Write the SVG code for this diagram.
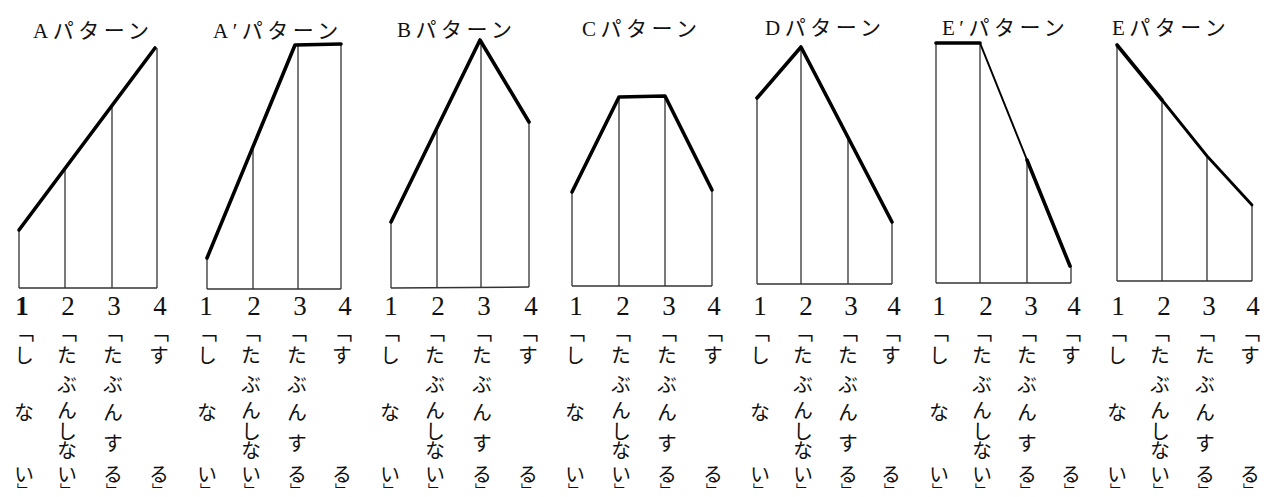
<svg xmlns="http://www.w3.org/2000/svg" width="1279" height="497" viewBox="0 0 1279 497">
<style>
.bg{fill:#fff}
.thin{stroke:#222;stroke-width:1.2;fill:none}
.base{stroke:#333;stroke-width:1.5;fill:none}
.thick{stroke:#000;stroke-width:3.6;fill:none;stroke-linejoin:round;stroke-linecap:round}
.mid{stroke:#000;stroke-width:2;fill:none}
.title{font-family:"Liberation Serif","Noto Sans CJK JP",serif;font-size:21px;letter-spacing:4.5px;fill:#111}
.num{font-family:"Liberation Serif",serif;font-size:27px;text-anchor:middle;fill:#111}
.lab{font-family:"Noto Sans CJK JP",sans-serif;font-size:20px;fill:#111;writing-mode:vertical-rl}
.cl{font-size:14px}
</style>
<rect class="bg" x="0" y="0" width="1279" height="497"/>

<g id="panelA">
<text class="title" x="33" y="38">Aパターン</text>
<path class="thin" d="M19,230V288M65,169V288M112,106V288M157,48V288"/>
<path class="base" d="M19,288H157"/>
<path class="thick" d="M19,230L155,48"/>
<text class="num" x="22" y="315" font-weight="bold">1</text><text class="num" x="68" y="315">2</text><text class="num" x="114" y="315">3</text><text class="num" x="160" y="315">4</text>
<text class="lab" x="24"><tspan y="322">「</tspan><tspan y="345">し</tspan><tspan y="402">な</tspan><tspan y="464">い</tspan><tspan class="cl" y="483">」</tspan></text>
<text class="lab" x="67"><tspan y="322">「</tspan><tspan y="345">た</tspan><tspan y="374">ぶ</tspan><tspan y="400">ん</tspan><tspan y="421">し</tspan><tspan y="440">な</tspan><tspan y="464">い</tspan><tspan class="cl" y="483">」</tspan></text>
<text class="lab" x="113"><tspan y="322">「</tspan><tspan y="345">た</tspan><tspan y="374">ぶ</tspan><tspan y="402">ん</tspan><tspan y="433">す</tspan><tspan y="464">る</tspan><tspan class="cl" y="483">」</tspan></text>
<text class="lab" x="159"><tspan y="322">「</tspan><tspan y="345">す</tspan><tspan y="464">る</tspan><tspan class="cl" y="483">」</tspan></text>
</g>

<g id="panelA2">
<text class="title" x="213" y="38">A′パターン</text>
<path class="thin" d="M207,258V289M253,147V289M298,45V289M341,44V289"/>
<path class="base" d="M207,289H341"/>
<path class="thick" d="M207,258L295,45L341,44"/>
<text class="num" x="206" y="315">1</text><text class="num" x="254" y="315">2</text><text class="num" x="300" y="315">3</text><text class="num" x="345" y="315">4</text>
<text class="lab" x="207"><tspan y="322">「</tspan><tspan y="345">し</tspan><tspan y="402">な</tspan><tspan y="464">い</tspan><tspan class="cl" y="483">」</tspan></text>
<text class="lab" x="251"><tspan y="322">「</tspan><tspan y="345">た</tspan><tspan y="374">ぶ</tspan><tspan y="400">ん</tspan><tspan y="421">し</tspan><tspan y="440">な</tspan><tspan y="464">い</tspan><tspan class="cl" y="483">」</tspan></text>
<text class="lab" x="297"><tspan y="322">「</tspan><tspan y="345">た</tspan><tspan y="374">ぶ</tspan><tspan y="402">ん</tspan><tspan y="433">す</tspan><tspan y="464">る</tspan><tspan class="cl" y="483">」</tspan></text>
<text class="lab" x="342"><tspan y="322">「</tspan><tspan y="345">す</tspan><tspan y="464">る</tspan><tspan class="cl" y="483">」</tspan></text>
</g>

<g id="panelB">
<text class="title" x="397" y="37">Bパターン</text>
<path class="thin" d="M391,222V288M437,128V288M481,40V287M529,122V287"/>
<path class="base" d="M391,288L529,287"/>
<path class="thick" d="M391,222L480,40L529,122"/>
<text class="num" x="391" y="315">1</text><text class="num" x="438" y="315">2</text><text class="num" x="484" y="315">3</text><text class="num" x="531" y="315">4</text>
<text class="lab" x="390"><tspan y="322">「</tspan><tspan y="345">し</tspan><tspan y="402">な</tspan><tspan y="464">い</tspan><tspan class="cl" y="483">」</tspan></text>
<text class="lab" x="435"><tspan y="322">「</tspan><tspan y="345">た</tspan><tspan y="374">ぶ</tspan><tspan y="400">ん</tspan><tspan y="421">し</tspan><tspan y="440">な</tspan><tspan y="464">い</tspan><tspan class="cl" y="483">」</tspan></text>
<text class="lab" x="482"><tspan y="322">「</tspan><tspan y="345">た</tspan><tspan y="374">ぶ</tspan><tspan y="402">ん</tspan><tspan y="433">す</tspan><tspan y="464">る</tspan><tspan class="cl" y="483">」</tspan></text>
<text class="lab" x="528"><tspan y="322">「</tspan><tspan y="345">す</tspan><tspan y="464">る</tspan><tspan class="cl" y="483">」</tspan></text>
</g>

<g id="panelC">
<text class="title" x="582" y="36">Cパターン</text>
<path class="thin" d="M572,192V286M619,97V286M665,96V286M712,190V286"/>
<path class="base" d="M572,286H712"/>
<path class="thick" d="M572,192L619,97L665,96L712,190"/>
<text class="num" x="576" y="315">1</text><text class="num" x="623" y="315">2</text><text class="num" x="669" y="315">3</text><text class="num" x="714" y="315">4</text>
<text class="lab" x="575"><tspan y="322">「</tspan><tspan y="345">し</tspan><tspan y="402">な</tspan><tspan y="464">い</tspan><tspan class="cl" y="483">」</tspan></text>
<text class="lab" x="621"><tspan y="322">「</tspan><tspan y="345">た</tspan><tspan y="374">ぶ</tspan><tspan y="400">ん</tspan><tspan y="421">し</tspan><tspan y="440">な</tspan><tspan y="464">い</tspan><tspan class="cl" y="483">」</tspan></text>
<text class="lab" x="667"><tspan y="322">「</tspan><tspan y="345">た</tspan><tspan y="374">ぶ</tspan><tspan y="402">ん</tspan><tspan y="433">す</tspan><tspan y="464">る</tspan><tspan class="cl" y="483">」</tspan></text>
<text class="lab" x="713"><tspan y="322">「</tspan><tspan y="345">す</tspan><tspan y="464">る</tspan><tspan class="cl" y="483">」</tspan></text>
</g>

<g id="panelD">
<text class="title" x="765" y="35">Dパターン</text>
<path class="thin" d="M757,98V284M801,47V284M848,137V284M892,222V284"/>
<path class="base" d="M757,284H892"/>
<path class="thick" d="M757,98L801,47L892,222"/>
<text class="num" x="760" y="315">1</text><text class="num" x="806" y="315">2</text><text class="num" x="851" y="315">3</text><text class="num" x="894" y="315">4</text>
<text class="lab" x="760"><tspan y="322">「</tspan><tspan y="345">し</tspan><tspan y="402">な</tspan><tspan y="464">い</tspan><tspan class="cl" y="483">」</tspan></text>
<text class="lab" x="803"><tspan y="322">「</tspan><tspan y="345">た</tspan><tspan y="374">ぶ</tspan><tspan y="400">ん</tspan><tspan y="421">し</tspan><tspan y="440">な</tspan><tspan y="464">い</tspan><tspan class="cl" y="483">」</tspan></text>
<text class="lab" x="848"><tspan y="322">「</tspan><tspan y="345">た</tspan><tspan y="374">ぶ</tspan><tspan y="402">ん</tspan><tspan y="433">す</tspan><tspan y="464">る</tspan><tspan class="cl" y="483">」</tspan></text>
<text class="lab" x="891"><tspan y="322">「</tspan><tspan y="345">す</tspan><tspan y="464">る</tspan><tspan class="cl" y="483">」</tspan></text>
</g>

<g id="panelE2">
<text class="title" x="942" y="35">E′パターン</text>
<path class="thin" d="M936,43V283M980,43V283M1027,160V283M1071,266V283"/>
<path class="base" d="M936,283H1071"/>
<path class="thick" d="M936,43H980"/>
<path class="mid" d="M980,43L1027,160"/>
<path class="thick" d="M1027,160L1070,266"/>
<text class="num" x="939" y="315">1</text><text class="num" x="986" y="315">2</text><text class="num" x="1031" y="315">3</text><text class="num" x="1074" y="315">4</text>
<text class="lab" x="939"><tspan y="322">「</tspan><tspan y="345">し</tspan><tspan y="402">な</tspan><tspan y="464">い</tspan><tspan class="cl" y="483">」</tspan></text>
<text class="lab" x="982"><tspan y="322">「</tspan><tspan y="345">た</tspan><tspan y="374">ぶ</tspan><tspan y="400">ん</tspan><tspan y="421">し</tspan><tspan y="440">な</tspan><tspan y="464">い</tspan><tspan class="cl" y="483">」</tspan></text>
<text class="lab" x="1027"><tspan y="322">「</tspan><tspan y="345">た</tspan><tspan y="374">ぶ</tspan><tspan y="402">ん</tspan><tspan y="433">す</tspan><tspan y="464">る</tspan><tspan class="cl" y="483">」</tspan></text>
<text class="lab" x="1071"><tspan y="322">「</tspan><tspan y="345">す</tspan><tspan y="464">る</tspan><tspan class="cl" y="483">」</tspan></text>
</g>

<g id="panelE">
<text class="title" x="1112" y="35">Eパターン</text>
<path class="thin" d="M1117,45V281M1162,100V281M1207,156V281M1252,205V281"/>
<path class="base" d="M1117,281H1252"/>
<path class="thick" d="M1117,45L1162,100"/>
<path class="thick" style="stroke-width:2.8" d="M1162,100L1207,156L1252,205"/>
<text class="num" x="1118" y="315">1</text><text class="num" x="1164" y="315">2</text><text class="num" x="1209" y="315">3</text><text class="num" x="1253" y="315">4</text>
<text class="lab" x="1117"><tspan y="322">「</tspan><tspan y="345">し</tspan><tspan y="402">な</tspan><tspan y="464">い</tspan><tspan class="cl" y="483">」</tspan></text>
<text class="lab" x="1160"><tspan y="322">「</tspan><tspan y="345">た</tspan><tspan y="374">ぶ</tspan><tspan y="400">ん</tspan><tspan y="421">し</tspan><tspan y="440">な</tspan><tspan y="464">い</tspan><tspan class="cl" y="483">」</tspan></text>
<text class="lab" x="1205"><tspan y="322">「</tspan><tspan y="345">た</tspan><tspan y="374">ぶ</tspan><tspan y="402">ん</tspan><tspan y="433">す</tspan><tspan y="464">る</tspan><tspan class="cl" y="483">」</tspan></text>
<text class="lab" x="1250"><tspan y="322">「</tspan><tspan y="345">す</tspan><tspan y="464">る</tspan><tspan class="cl" y="483">」</tspan></text>
</g>
</svg>
